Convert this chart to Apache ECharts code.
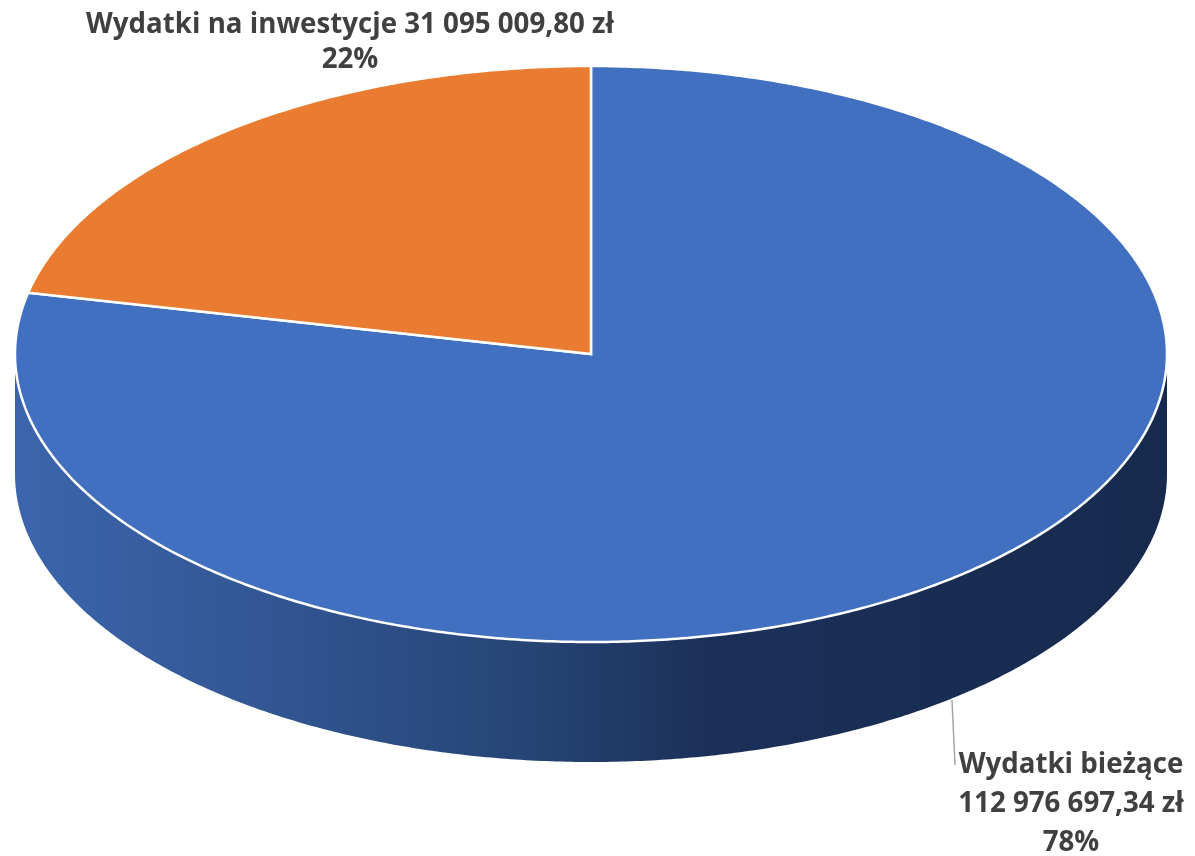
<!DOCTYPE html>
<html>
<head>
<meta charset="utf-8">
<style>
html, body { margin: 0; padding: 0; background: #fff; }
#chart { width: 1195px; height: 856px; }
</style>
<script src="https://cdn.jsdelivr.net/npm/echarts@6/dist/echarts.min.js"></script>
</head>
<body>
<div id="chart"></div>
<script>
const categories = ['Wydatki bieżące', 'Wydatki na inwestycje']
const values = [112976697.34, 31095009.80]

const COLORS = ['#4170c0', '#e97c30']
const TOTAL = values.reduce((a, b) => a + b, 0)

// geometry of the tilted disc
const CX = 591
const CY = 354
const RX = 576
const RY = 288
const DEPTH = 120

const TEXT_FONT = 'bold 27.7px "Open Sans", sans-serif'
const LABEL_POS = [[1071, 804], [350, 43]]
const LABEL_LINE = [39, 35]
const LEADER = [[952, 700], [955, 765]]

const formatMoney = (v) => {
    const [whole, cents] = v.toFixed(2).split('.')
    return `${whole.replace(/\B(?=(\d{3})+$)/g, ' ')},${cents} zł`
}

// angle in degrees, clockwise from the top of the ellipse
const rim = (deg, dy = 0) => {
    const t = deg * Math.PI / 180
    return [CX + RX * Math.sin(t), CY - RY * Math.cos(t) + dy]
}

const arc = (from, to, dy = 0) => {
    const pts = []
    const steps = Math.max(2, Math.ceil(Math.abs(to - from) * 2))
    for (let i = 0; i <= steps; i++) {
        pts.push(rim(from + (to - from) * i / steps, dy))
    }
    return pts
}

const renderSlice = (params, api) => {
    const i = params.dataIndex
    const before = values.slice(0, i).reduce((a, b) => a + b, 0)
    const start = before / TOTAL * 360
    const end = start + api.value(0) / TOTAL * 360
    const children = []

    // only the front half of the rim can be seen
    const sideFrom = Math.max(start, 90)
    const sideTo = Math.min(end, 270)
    if (sideTo > sideFrom) {
        children.push({
            type: 'polygon',
            z2: 1,
            shape: { points: [...arc(sideFrom, sideTo), ...arc(sideTo, sideFrom, DEPTH)] },
            style: {
                fill: new echarts.graphic.LinearGradient(0, 0, 1, 0, [
                    { offset: 0, color: '#3c65ad' },
                    { offset: 0.25, color: '#30548f' },
                    { offset: 0.45, color: '#264474' },
                    { offset: 0.6, color: '#1b3059' },
                    { offset: 1, color: '#172a4e' }
                ])
            }
        })
    }

    children.push({
        type: 'polygon',
        z2: 2 + i,
        shape: { points: [[CX, CY], ...arc(start, end)] },
        style: { fill: COLORS[i], stroke: '#fff', lineWidth: 2.5, lineJoin: 'miter' }
    })

    const pct = Math.round(api.value(0) / TOTAL * 100)
    const text = i === 0
        ? `${categories[i]}\n${formatMoney(values[i])}\n${pct}%`
        : `${categories[i]} ${formatMoney(values[i])}\n${pct}%`
    children.push({
        type: 'text',
        z2: 10,
        x: LABEL_POS[i][0],
        y: LABEL_POS[i][1],
        style: {
            text,
            font: TEXT_FONT,
            fill: '#404040',
            align: 'center',
            verticalAlign: 'middle',
            lineHeight: LABEL_LINE[i]
        }
    })

    if (i === 0) {
        children.push({
            type: 'polyline',
            z2: 5,
            shape: { points: LEADER },
            style: { stroke: '#a6a6a6', lineWidth: 1.5, fill: null }
        })
    }
    return { type: 'group', children }
}

const chart = echarts.init(document.getElementById('chart'))
chart.setOption({
    animation: false,
    backgroundColor: '#fff',
    series: [{
        type: 'custom',
        coordinateSystem: 'none',
        silent: true,
        renderItem: renderSlice,
        data: values.map(v => [v])
    }]
})
</script>
</body>
</html>
